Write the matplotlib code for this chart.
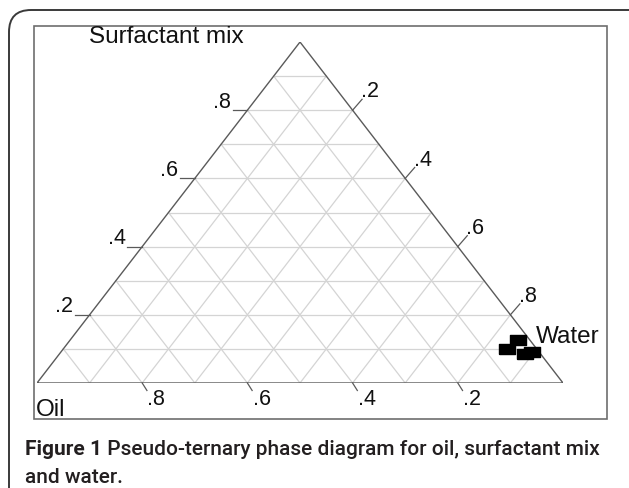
import matplotlib
matplotlib.use("Agg")
import matplotlib.pyplot as plt
from matplotlib.patches import Rectangle, FancyBboxPatch
import numpy as np

# ---- data (ternary fractions) ----
oil_frac = [0.023, 0.056, 0.030, 0.013]
surf_frac = [0.126, 0.101, 0.085, 0.091]
water_frac = [0.851, 0.843, 0.885, 0.896]

grid_levels = [0.1, 0.2, 0.3, 0.4, 0.5, 0.6, 0.7, 0.8, 0.9]
tick_levels = [0.2, 0.4, 0.6, 0.8]
tick_labels = [".2", ".4", ".6", ".8"]
caption_bold = "Figure 1"
caption_rest = " Pseudo-ternary phase diagram for oil, surfactant mix"
caption_line2 = "and water."

W, H = 629, 489
fig = plt.figure(figsize=(W / 100, H / 100), dpi=100)


def fx(px):
    return px / W


def fy(py):
    return 1 - py / H


# outer rounded frame (extends beyond canvas)
frame = FancyBboxPatch((fx(9), fy(520)), fx(700), fy(11) - fy(520),
                       boxstyle="round,pad=0,rounding_size=0.035",
                       transform=fig.transFigure, fill=False,
                       edgecolor="#3a3a3a", linewidth=1.4, mutation_aspect=W / H)
fig.patches.append(frame)

# inner plot box
box = Rectangle((fx(34), fy(420)), fx(607) - fx(34), fy(27) - fy(420),
                transform=fig.transFigure, fill=False,
                edgecolor="#6e6e6e", linewidth=1.2)
fig.patches.append(box)

# triangle axes: x = water + surf/2, y = surf
ax = fig.add_axes([fx(37), fy(384), fx(563) - fx(37), fy(43) - fy(384)])
ax.set_xlim(0, 1)
ax.set_ylim(0, 1)
ax.axis("off")


def tern(o, s, w):
    o = np.asarray(o, float); s = np.asarray(s, float); w = np.asarray(w, float)
    tot = o + s + w
    return (w + s / 2) / tot, s / tot


grid_kw = dict(color="#d4d4d4", linewidth=0.9, zorder=1)
for g in grid_levels:
    x, y = tern([1 - g, 0], [g, g], [0, 1 - g])
    ax.plot(x, y, **grid_kw)
    x, y = tern([1 - g, 0], [0, 1 - g], [g, g])
    ax.plot(x, y, **grid_kw)
    x, y = tern([g, g], [0, 1 - g], [1 - g, 0])
    ax.plot(x, y, **grid_kw)

# triangle outline
x, y = tern([1, 0, 0, 1], [0, 1, 0, 0], [0, 0, 1, 0])
ax.plot(x, y, color="#5a5a5a", linewidth=1.0, zorder=2, solid_joinstyle="miter")

tick_kw = dict(color="#5a5a5a", linewidth=0.9, clip_on=False, zorder=2)
lab_kw = dict(fontsize=15.5, family="Liberation Sans", color="#111111", clip_on=False)
tl = 0.028
for t, lab in zip(tick_levels, tick_labels):
    # left edge: surfactant
    x0, y0 = tern(1 - t, t, 0)
    ax.plot([x0, x0 - tl], [y0, y0], **tick_kw)
    ax.text(x0 - tl - 0.003, y0 - 0.004, lab, ha="right", va="bottom", **lab_kw)
    # right edge: water
    x0, y0 = tern(0, 1 - t, t)
    dx, dy = 0.018, 0.032
    ax.plot([x0, x0 + dx], [y0, y0 + dy], **tick_kw)
    ax.text(x0 + dx - 0.002, y0 + dy - 0.006, lab, ha="left", va="bottom", **lab_kw)
    # bottom edge: oil
    x0, y0 = tern(t, 0, 1 - t)
    dx, dy = 0.009, -0.022
    ax.plot([x0, x0 + dx], [y0, y0 + dy], **tick_kw)
    ax.text(x0 + dx + 0.001, y0 + dy + 0.006, lab, ha="left", va="top", **lab_kw)

# data points
px, py = tern(oil_frac, surf_frac, water_frac)
rect_marker = [(-1, -0.6), (1, -0.6), (1, 0.6), (-1, 0.6), (-1, -0.6)]
ax.plot(px, py, linestyle="none", marker=rect_marker, markersize=11,
        color="black", zorder=3)

# vertex labels
vkw = dict(fontsize=17.5, family="Liberation Sans", color="#111111")
fig.text(fx(89), fy(26), "Surfactant mix", ha="left", va="top", **vkw)
fig.text(fx(36), fy(421), "Oil", ha="left", va="bottom", **vkw)
fig.text(fx(536), fy(326), "Water", ha="left", va="top", **vkw)

# caption, fitted to span x = 25..599 px
renderer = fig.canvas.get_renderer()
target_right = 599
fs = 16.0
cap_font = "Roboto"
for _ in range(4):
    ckw = dict(fontsize=fs, family=cap_font, color="#231f20", va="baseline")
    t1 = fig.text(fx(25), fy(455), caption_bold, fontweight="bold", ha="left", **ckw)
    bb = t1.get_window_extent(renderer)
    t2 = fig.text(bb.x1 / W, fy(455), caption_rest, fontweight="medium", ha="left", **ckw)
    bb2 = t2.get_window_extent(renderer)
    scale = (target_right - 25) / (bb2.x1 - 25)
    if abs(scale - 1) < 0.005:
        break
    t1.remove(); t2.remove()
    fs *= scale
ckw = dict(fontsize=fs, family=cap_font, color="#231f20", va="baseline")
fig.text(fx(25), fy(483), caption_line2, fontweight="medium", ha="left", **ckw)

fig.savefig("out.png", dpi=100)
